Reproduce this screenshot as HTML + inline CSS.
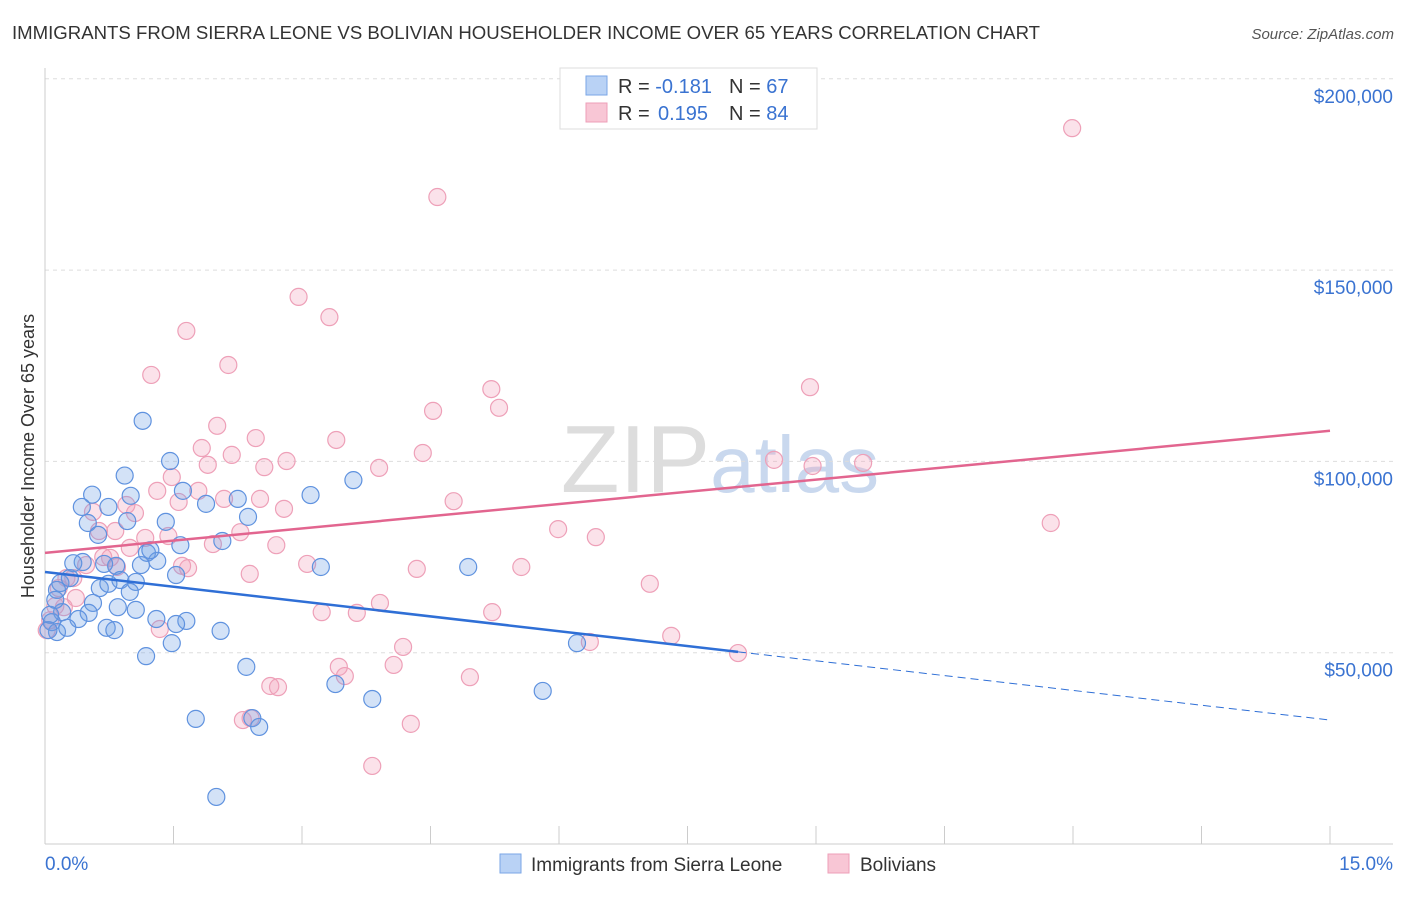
<!DOCTYPE html>
<html><head><meta charset="utf-8"><style>
body{margin:0;background:#fff;font-family:"Liberation Sans",sans-serif;}
svg text{font-family:"Liberation Sans",sans-serif;}
</style></head><body>
<svg width="1406" height="892">
<text x="12" y="39" font-size="18.6" fill="#333">IMMIGRANTS FROM SIERRA LEONE VS BOLIVIAN HOUSEHOLDER INCOME OVER 65 YEARS CORRELATION CHART</text>
<text x="1394" y="39" font-size="15" fill="#555" font-style="italic" text-anchor="end">Source: ZipAtlas.com</text>
<text x="720" y="492" font-size="96" fill="#ddd" text-anchor="middle" font-family="Liberation Serif">ZIP<tspan fill="#c9d8ee" font-family="Liberation Sans" font-size="80">atlas</tspan></text>
<g id="grid"></g>
<g id="axes"></g>
<g id="marks"></g>
<text transform="translate(34,456) rotate(-90)" font-size="18" fill="#333" text-anchor="middle">Householder Income Over 65 years</text>
<g>
<rect x="560" y="68" width="257" height="61" fill="#fff" stroke="#ddd"/>
<rect x="586" y="76" width="21" height="19" fill="#b9d2f5" stroke="#7aa6e6"/>
<rect x="586" y="103" width="21" height="19" fill="#f8c6d5" stroke="#ee9fb8"/>
<text x="618" y="93" font-size="20" fill="#333">R = <tspan fill="#3a73d1">-0.181</tspan><tspan x="729">N = </tspan><tspan fill="#3a73d1">67</tspan></text>
<text x="618" y="120" font-size="20" fill="#333">R = <tspan x="658" fill="#3a73d1">0.195</tspan><tspan x="729">N = </tspan><tspan fill="#3a73d1">84</tspan></text>
</g>
<g>
<rect x="500" y="854" width="21" height="19" fill="#b9d2f5" stroke="#7aa6e6"/>
<text x="531" y="871" font-size="19" fill="#333">Immigrants from Sierra Leone</text>
<rect x="828" y="854" width="21" height="19" fill="#f8c6d5" stroke="#ee9fb8"/>
<text x="860" y="871" font-size="19" fill="#333">Bolivians</text>
</g>
</svg>
<script>
const yTicks=[50000,100000,150000,200000];
const yTickLabels=["$50,000","$100,000","$150,000","$200,000"];
const xTicks=[0,1.5,3,4.5,6,7.5,9,10.5,12,13.5,15];
const xEndLabels=["0.0%","15.0%"];
const blueX=[1.14,0.93,0.55,0.43,1.00,0.74,0.50,0.96,0.62,1.46,1.61,1.88,2.25,2.37,1.41,2.07,1.58,1.19,1.31,1.53,1.12,0.83,0.69,0.88,1.06,0.44,0.18,0.29,0.14,0.64,0.74,0.99,0.85,1.06,0.56,0.51,0.39,0.20,0.08,0.14,0.26,0.72,0.81,1.30,1.65,1.53,1.48,1.18,2.05,2.35,3.39,3.82,1.76,2.42,2.50,2.00,3.10,3.60,3.22,4.94,5.81,6.21,0.04,0.06,0.12,0.33,1.23];
const blueY=[110.6,96.3,91.3,88.1,91.0,88.1,83.9,84.4,80.8,100.1,92.3,88.9,90.2,85.5,84.2,79.2,78.1,76.1,74.0,70.3,72.9,72.7,73.2,69.0,68.5,73.7,68.2,69.5,66.4,66.9,68.0,65.9,61.9,61.2,63.0,60.4,58.8,60.6,58.0,55.4,56.5,56.5,55.9,58.8,58.3,57.5,52.5,49.1,55.7,46.3,41.8,37.9,32.7,32.9,30.6,12.3,91.2,95.1,72.4,72.4,40.0,52.5,55.9,59.9,63.8,73.4,76.8];
const pinkX=[11.99,4.58,2.96,3.32,1.65,2.14,1.24,5.21,8.93,5.30,4.53,2.01,3.40,2.46,1.83,2.18,4.41,8.51,8.96,9.55,2.82,1.90,3.90,2.56,1.31,1.79,1.48,2.09,2.51,1.56,4.77,0.95,2.79,0.56,1.05,5.99,6.43,11.74,0.63,2.28,0.82,1.96,2.70,1.17,0.99,1.44,0.68,1.67,1.60,0.84,3.06,4.34,5.56,2.39,0.48,0.33,0.16,0.25,7.06,0.36,3.91,3.23,3.64,5.22,0.06,0.22,1.34,7.31,6.36,8.09,4.18,3.43,4.07,4.96,3.50,2.63,2.72,2.31,2.40,4.27,3.82,0.02,0.12,0.76];
const pinkY=[187.1,169.1,143.0,137.7,134.1,125.2,122.6,118.9,119.4,114.0,113.2,109.3,105.6,106.1,103.5,101.7,102.2,100.4,98.8,99.6,100.1,99.1,98.3,98.5,92.3,92.3,95.9,90.2,90.2,89.4,89.6,88.6,87.6,86.8,86.5,82.3,80.2,83.9,81.8,81.5,81.8,78.4,78.1,80.0,77.4,80.5,75.0,72.1,72.7,72.4,73.2,71.9,72.4,70.6,72.9,69.5,66.9,69.5,68.0,64.3,63.0,60.6,60.4,60.6,58.5,61.9,56.2,54.4,52.8,49.9,51.5,46.3,46.8,43.6,43.9,41.3,41.0,32.4,32.9,31.4,20.4,55.9,62.2,74.8];
const blueTrend=[71.1,32.4];
const blueSolidEnd=8.09;
const pinkTrend=[76.1,108.0];

const NS="http://www.w3.org/2000/svg";
const X=v=>45+v/15*1285;
const Y=k=>844-k*3.826;
function mk(parent,tag,attrs){const e=document.createElementNS(NS,tag);for(const k in attrs)e.setAttribute(k,attrs[k]);document.getElementById(parent).appendChild(e);return e;}
yTicks.forEach((t,i)=>{
 const g=mk('grid','line',{x1:45,x2:1393,y1:Y(t/1000),y2:Y(t/1000),stroke:'#ddd','stroke-dasharray':'4,4'});
 
 
 const l=mk('axes','text',{x:1393,y:Y(t/1000)+24,'font-size':19,fill:'#3a73d1','text-anchor':'end'});
 l.textContent=yTickLabels[i];
 
 
});
const ax=mk('axes','line',{x1:45,x2:45,y1:68,y2:844,stroke:'#ccc'});


const bx=mk('axes','line',{x1:45,x2:1393,y1:844,y2:844,stroke:'#ccc'});


xTicks.forEach(t=>{
 const tk=mk('axes','line',{x1:X(t),x2:X(t),y1:826,y2:844,stroke:'#ccc'});
 
 
});
const xl0=mk('axes','text',{x:45,y:870,'font-size':19,fill:'#3a73d1'});
xl0.textContent=xEndLabels[0];


const xl1=mk('axes','text',{x:1393,y:870,'font-size':19,fill:'#3a73d1','text-anchor':'end'});
xl1.textContent=xEndLabels[1];


pinkX.forEach((x,i)=>{
 const c=mk('marks','circle',{cx:X(x),cy:Y(pinkY[i]),r:8.5,fill:'rgba(242,160,185,0.3)',stroke:'#eea0b8','stroke-width':1.2});
 
 
});
blueX.forEach((x,i)=>{
 const c=mk('marks','circle',{cx:X(x),cy:Y(blueY[i]),r:8.5,fill:'rgba(110,160,230,0.3)',stroke:'#5f92df','stroke-width':1.2});
 
 
});
const bv=x=>blueTrend[0]+(blueTrend[1]-blueTrend[0])*x/15;
const bl=mk('marks','line',{x1:X(0),y1:Y(bv(0)),x2:X(blueSolidEnd),y2:Y(bv(blueSolidEnd)),stroke:'#2f6fd6','stroke-width':2.5});


const bd=mk('marks','line',{x1:X(blueSolidEnd),y1:Y(bv(blueSolidEnd)),x2:X(15),y2:Y(bv(15)),stroke:'#2f6fd6','stroke-width':1,'stroke-dasharray':'8,5'});


const pl=mk('marks','line',{x1:X(0),y1:Y(pinkTrend[0]),x2:X(15),y2:Y(pinkTrend[1]),stroke:'#e2658f','stroke-width':2.5});


</script>
</body></html>
